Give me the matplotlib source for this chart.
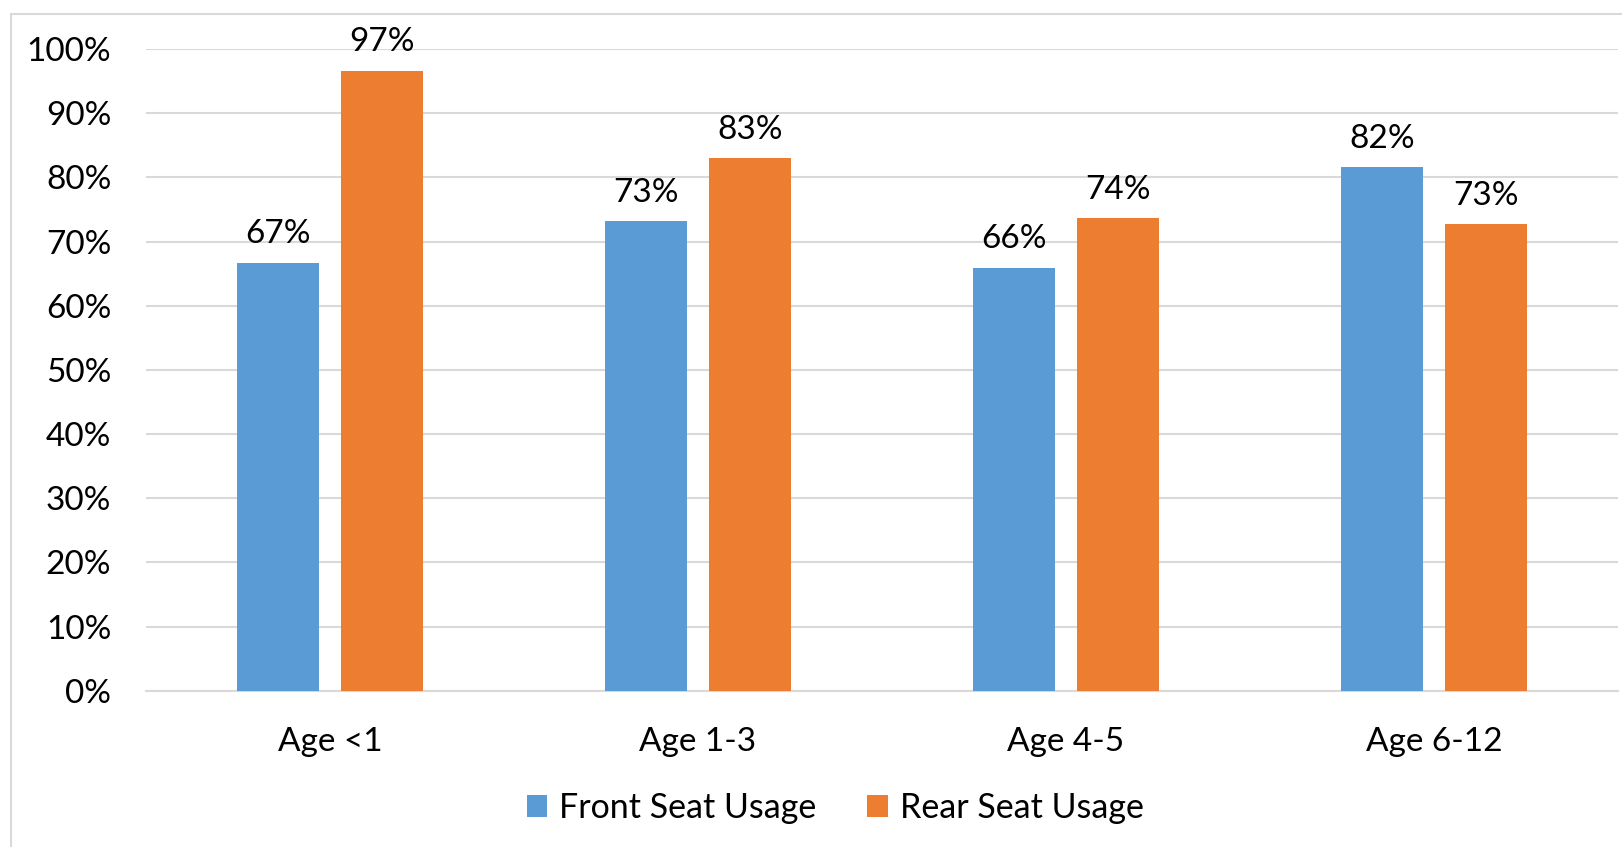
import matplotlib
matplotlib.use("Agg")
import matplotlib.pyplot as plt
from matplotlib.patches import Rectangle
from matplotlib.ticker import FuncFormatter
import numpy as np

categories = ["Age <1", "Age 1-3", "Age 4-5", "Age 6-12"]
front_seat = [0.667, 0.732, 0.659, 0.816]
rear_seat = [0.966, 0.830, 0.736, 0.727]
series_names = ["Front Seat Usage", "Rear Seat Usage"]
yticks = [0.0, 0.1, 0.2, 0.3, 0.4, 0.5, 0.6, 0.7, 0.8, 0.9, 1.0]

plt.rcParams['font.family'] = ['Lato', 'DejaVu Sans']

W, H = 1622, 847
fig = plt.figure(figsize=(W / 100, H / 100), dpi=100)
ax = fig.add_axes([146 / W, 1 - 690.7 / H, (1618 - 146) / W, (690.7 - 49) / H])

blue = "#5B9BD5"
orange = "#ED7D31"
grid_c = "#D9D9D9"

x = np.arange(len(categories))
bw = 0.224
off = 0.1415
b1 = ax.bar(x - off, front_seat, bw, color=blue, label=series_names[0], zorder=3)
b2 = ax.bar(x + off, rear_seat, bw, color=orange, label=series_names[1], zorder=3)

fs = 24
for bars, vals in ((b1, front_seat), (b2, rear_seat)):
    for r, v in zip(bars, vals):
        ax.annotate(f"{round(v * 100):.0f}%", (r.get_x() + r.get_width() / 2, v),
                    xytext=(0, 14), textcoords="offset points",
                    ha="center", va="baseline", fontsize=fs, color="black",
                    annotation_clip=False)

ax.set_xlim(-0.5, 3.5)
ax.set_ylim(0, 1.0)
ax.set_yticks(yticks)
ax.yaxis.set_major_formatter(FuncFormatter(lambda v, p: f"{v * 100:.0f}%"))
ax.set_xticks(x)
ax.set_xticklabels(categories)
ax.tick_params(axis="y", length=0, pad=25, labelsize=fs)
ax.tick_params(axis="x", length=0, pad=26, labelsize=fs)
ax.grid(axis="y", color=grid_c, linewidth=1.5, zorder=0)
ax.set_axisbelow(True)
for s in ("top", "right", "left"):
    ax.spines[s].set_visible(False)
ax.spines["bottom"].set_color(grid_c)
ax.spines["bottom"].set_linewidth(1.5)

leg = fig.legend(handles=[b1, b2], labels=series_names, loc="center",
                 bbox_to_anchor=(835 / W, 1 - 808 / H), ncol=2, frameon=False,
                 fontsize=24.5, handlelength=0.6, handleheight=0.6,
                 handletextpad=0.35, columnspacing=1.5)

# outer chart border (partially cropped in the reference)
fig.patches.append(Rectangle((11 / W, -0.1), 1.2, 1.1 - 14 / H,
                             transform=fig.transFigure, fill=False,
                             edgecolor=grid_c, linewidth=1.5))

fig.savefig("out.png", dpi=100)
